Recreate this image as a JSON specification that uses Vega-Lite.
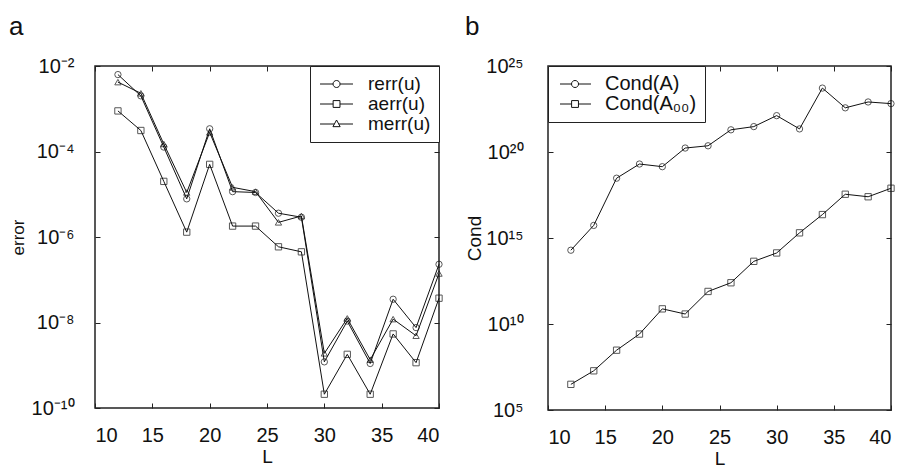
{
  "$schema": "https://vega.github.io/schema/vega-lite/v6.json",
  "padding": {"left": 8, "top": 13, "right": 0, "bottom": 0},
  "config": {
    "font": "Liberation Sans",
    "view": {"stroke": "#222", "strokeWidth": 1.5},
    "axis": {"domain": false, "grid": false, "ticks": true, "tickSize": -5, "tickColor": "#222", "tickWidth": 1, "labelFontSize": 20, "labelColor": "#111", "titleFontWeight": "normal", "titleColor": "#111"},
    "title": {"fontWeight": "normal", "fontSize": 26, "anchor": "start", "frame": "bounds", "color": "#111"},
    "legend": {"title": null, "offset": 0, "padding": 8, "strokeColor": "#222", "fillColor": "white", "labelColor": "#111", "symbolOpacity": 1, "symbolStrokeWidth": 1}
  },
  "datasets": {
    "err": [
      {"L": 12, "s": "rerr(u)", "v": 6.3e-3}, {"L": 14, "s": "rerr(u)", "v": 2.0e-3}, {"L": 16, "s": "rerr(u)", "v": 1.27e-4}, {"L": 18, "s": "rerr(u)", "v": 7.8e-6}, {"L": 20, "s": "rerr(u)", "v": 3.4e-4}, {"L": 22, "s": "rerr(u)", "v": 1.15e-5}, {"L": 24, "s": "rerr(u)", "v": 1.1e-5}, {"L": 26, "s": "rerr(u)", "v": 3.6e-6}, {"L": 28, "s": "rerr(u)", "v": 2.9e-6}, {"L": 30, "s": "rerr(u)", "v": 1.2e-9}, {"L": 32, "s": "rerr(u)", "v": 1.08e-8}, {"L": 34, "s": "rerr(u)", "v": 1.1e-9}, {"L": 36, "s": "rerr(u)", "v": 3.5e-8}, {"L": 38, "s": "rerr(u)", "v": 7.6e-9}, {"L": 40, "s": "rerr(u)", "v": 2.3e-7},
      {"L": 12, "s": "aerr(u)", "v": 8.9e-4}, {"L": 14, "s": "aerr(u)", "v": 3.1e-4}, {"L": 16, "s": "aerr(u)", "v": 2.0e-5}, {"L": 18, "s": "aerr(u)", "v": 1.3e-6}, {"L": 20, "s": "aerr(u)", "v": 5.0e-5}, {"L": 22, "s": "aerr(u)", "v": 1.8e-6}, {"L": 24, "s": "aerr(u)", "v": 1.8e-6}, {"L": 26, "s": "aerr(u)", "v": 5.9e-7}, {"L": 28, "s": "aerr(u)", "v": 4.5e-7}, {"L": 30, "s": "aerr(u)", "v": 2.1e-10}, {"L": 32, "s": "aerr(u)", "v": 1.8e-9}, {"L": 34, "s": "aerr(u)", "v": 2.1e-10}, {"L": 36, "s": "aerr(u)", "v": 5.4e-9}, {"L": 38, "s": "aerr(u)", "v": 1.15e-9}, {"L": 40, "s": "aerr(u)", "v": 3.7e-8},
      {"L": 12, "s": "merr(u)", "v": 4.2e-3}, {"L": 14, "s": "merr(u)", "v": 2.3e-3}, {"L": 16, "s": "merr(u)", "v": 1.5e-4}, {"L": 18, "s": "merr(u)", "v": 1.1e-5}, {"L": 20, "s": "merr(u)", "v": 2.8e-4}, {"L": 22, "s": "merr(u)", "v": 1.45e-5}, {"L": 24, "s": "merr(u)", "v": 1.15e-5}, {"L": 26, "s": "merr(u)", "v": 2.2e-6}, {"L": 28, "s": "merr(u)", "v": 3.1e-6}, {"L": 30, "s": "merr(u)", "v": 1.9e-9}, {"L": 32, "s": "merr(u)", "v": 1.25e-8}, {"L": 34, "s": "merr(u)", "v": 1.35e-9}, {"L": 36, "s": "merr(u)", "v": 1.2e-8}, {"L": 38, "s": "merr(u)", "v": 4.9e-9}, {"L": 40, "s": "merr(u)", "v": 1.4e-7}
    ],
    "cond": [
      {"L": 12, "s": "Cond(A)", "v": 1.95e14}, {"L": 14, "s": "Cond(A)", "v": 5.4e15}, {"L": 16, "s": "Cond(A)", "v": 3.0e18}, {"L": 18, "s": "Cond(A)", "v": 2.0e19}, {"L": 20, "s": "Cond(A)", "v": 1.4e19}, {"L": 22, "s": "Cond(A)", "v": 1.7e20}, {"L": 24, "s": "Cond(A)", "v": 2.3e20}, {"L": 26, "s": "Cond(A)", "v": 1.95e21}, {"L": 28, "s": "Cond(A)", "v": 3.0e21}, {"L": 30, "s": "Cond(A)", "v": 1.3e22}, {"L": 32, "s": "Cond(A)", "v": 2.2e21}, {"L": 34, "s": "Cond(A)", "v": 5.2e23}, {"L": 36, "s": "Cond(A)", "v": 3.7e22}, {"L": 38, "s": "Cond(A)", "v": 8.1e22}, {"L": 40, "s": "Cond(A)", "v": 6.5e22},
      {"L": 12, "s": "Cond(A₀₀)", "v": 3.1e6}, {"L": 14, "s": "Cond(A₀₀)", "v": 1.9e7}, {"L": 16, "s": "Cond(A₀₀)", "v": 3.0e8}, {"L": 18, "s": "Cond(A₀₀)", "v": 2.6e9}, {"L": 20, "s": "Cond(A₀₀)", "v": 7.6e10}, {"L": 22, "s": "Cond(A₀₀)", "v": 3.8e10}, {"L": 24, "s": "Cond(A₀₀)", "v": 7.8e11}, {"L": 26, "s": "Cond(A₀₀)", "v": 2.5e12}, {"L": 28, "s": "Cond(A₀₀)", "v": 4.4e13}, {"L": 30, "s": "Cond(A₀₀)", "v": 1.35e14}, {"L": 32, "s": "Cond(A₀₀)", "v": 2.0e15}, {"L": 34, "s": "Cond(A₀₀)", "v": 2.3e16}, {"L": 36, "s": "Cond(A₀₀)", "v": 3.5e17}, {"L": 38, "s": "Cond(A₀₀)", "v": 2.5e17}, {"L": 40, "s": "Cond(A₀₀)", "v": 7.8e17}
    ]
  },
  "spacing": 15,
  "resolve": {"scale": {"shape": "independent"}, "legend": {"shape": "independent"}},
  "hconcat": [
    {
      "width": 344,
      "height": 342,
      "title": {"text": "a", "offset": 16},
      "data": {"name": "err"},
      "layer": [
        {
          "mark": {"type": "line", "color": "#111", "strokeWidth": 1},
          "encoding": {
            "x": {"field": "L", "type": "quantitative", "scale": {"domain": [10, 40], "nice": false, "zero": false},
                  "axis": {"orient": "bottom", "values": [10, 15, 20, 25, 30, 35, 40], "title": "L", "titleFontSize": 19, "labelPadding": 22, "titlePadding": 2}},
            "y": {"field": "v", "type": "quantitative", "scale": {"type": "log", "domain": [1e-10, 1e-2], "nice": false},
                  "axis": {"orient": "left", "values": [1e-10, 1e-8, 1e-6, 1e-4, 1e-2], "labelExpr": "datum.value >= 0.005 ? '10⁻²' : datum.value >= 5e-5 ? '10⁻⁴' : datum.value >= 5e-7 ? '10⁻⁶' : datum.value >= 5e-9 ? '10⁻⁸' : '10⁻¹⁰'", "title": "error", "titleFontSize": 17, "titleX": -68, "labelPadding": 26}},
            "detail": {"field": "s"}
          }
        },
        {
          "mark": {"type": "point", "filled": false, "stroke": "#111", "strokeWidth": 1, "size": 40},
          "encoding": {
            "x": {"field": "L", "type": "quantitative", "axis": {"orient": "top", "values": [10, 15, 20, 25, 30, 35, 40], "labels": false, "title": null}},
            "y": {"field": "v", "type": "quantitative", "axis": {"orient": "right", "values": [1e-10, 1e-8, 1e-6, 1e-4, 1e-2], "labels": false, "title": null}},
            "shape": {"field": "s", "type": "nominal",
                      "scale": {"domain": ["rerr(u)", "aerr(u)", "merr(u)"], "range": ["circle", "square", "triangle-up"]},
                      "legend": null}
          }
        },
        {
          "mark": {"type": "point", "filled": false, "stroke": "#111", "strokeWidth": 1, "size": 40, "opacity": 0},
          "encoding": {
            "x": {"field": "L", "type": "quantitative", "axis": null},
            "y": {"field": "v", "type": "quantitative", "axis": null},
            "shape": {"field": "s", "type": "nominal",
                      "scale": {"domain": ["rerr(u)", "aerr(u)", "merr(u)"],
                                "range": ["M-0.84,0L0.53,0M1.27,0L2.63,0M0.53,0A0.37,0.37,0,1,0,1.27,0A0.37,0.37,0,1,0,0.53,0Z",
                                          "M-0.84,0L0.54,0M1.26,0L2.63,0M0.54,-0.36L1.26,-0.36L1.26,0.36L0.54,0.36Z",
                                          "M-0.84,0L0.67,0M1.13,0L2.63,0M0.9,-0.42L1.28,0.28L0.52,0.28Z"]},
                      "legend": {"orient": "top-right", "labelFontSize": 19, "symbolSize": 361, "labelOffset": 30, "rowPadding": -4, "symbolOpacity": 1}}
          }
        }
      ],
      "resolve": {"axis": {"x": "independent", "y": "independent"}, "scale": {"shape": "independent"}}
    },
    {
      "width": 343,
      "height": 344,
      "title": {"text": "b", "offset": 16},
      "data": {"name": "cond"},
      "layer": [
        {
          "mark": {"type": "line", "color": "#111", "strokeWidth": 1},
          "encoding": {
            "x": {"field": "L", "type": "quantitative", "scale": {"domain": [10, 40], "nice": false, "zero": false},
                  "axis": {"orient": "bottom", "values": [10, 15, 20, 25, 30, 35, 40], "title": "L", "titleFontSize": 19, "labelPadding": 22, "titlePadding": 2}},
            "y": {"field": "v", "type": "quantitative", "scale": {"type": "log", "domain": [1e5, 1e25], "nice": false},
                  "axis": {"orient": "left", "values": [1e5, 1e10, 1e15, 1e20, 1e25], "labelExpr": "datum.value >= 5e24 ? '10²⁵' : datum.value >= 5e19 ? '10²⁰' : datum.value >= 5e14 ? '10¹⁵' : datum.value >= 5e9 ? '10¹⁰' : '10⁵'", "title": "Cond", "titleFontSize": 19, "titleX": -64, "labelPadding": 30}},
            "detail": {"field": "s"}
          }
        },
        {
          "mark": {"type": "point", "filled": false, "stroke": "#111", "strokeWidth": 1, "size": 40},
          "encoding": {
            "x": {"field": "L", "type": "quantitative", "axis": {"orient": "top", "values": [10, 15, 20, 25, 30, 35, 40], "labels": false, "title": null}},
            "y": {"field": "v", "type": "quantitative", "axis": {"orient": "right", "values": [1e5, 1e10, 1e15, 1e20, 1e25], "labels": false, "title": null}},
            "shape": {"field": "s", "type": "nominal",
                      "scale": {"domain": ["Cond(A)", "Cond(A₀₀)"], "range": ["circle", "square"]},
                      "legend": null}
          }
        },
        {
          "mark": {"type": "point", "filled": false, "stroke": "#111", "strokeWidth": 1, "size": 40, "opacity": 0},
          "encoding": {
            "x": {"field": "L", "type": "quantitative", "axis": null},
            "y": {"field": "v", "type": "quantitative", "axis": null},
            "shape": {"field": "s", "type": "nominal",
                      "scale": {"domain": ["Cond(A)", "Cond(A₀₀)"],
                                "range": ["M-0.63,0L0.58,0M1.32,0L2.63,0M0.58,0A0.37,0.37,0,1,0,1.32,0A0.37,0.37,0,1,0,0.58,0Z",
                                          "M-0.63,0L0.59,0M1.31,0L2.63,0M0.59,-0.36L1.31,-0.36L1.31,0.36L0.59,0.36Z"]},
                      "legend": {"orient": "top-left", "labelFontSize": 20, "symbolSize": 361, "labelOffset": 29, "rowPadding": -8, "symbolOpacity": 1}}
          }
        }
      ],
      "resolve": {"axis": {"x": "independent", "y": "independent"}, "scale": {"shape": "independent"}}
    }
  ]
}
